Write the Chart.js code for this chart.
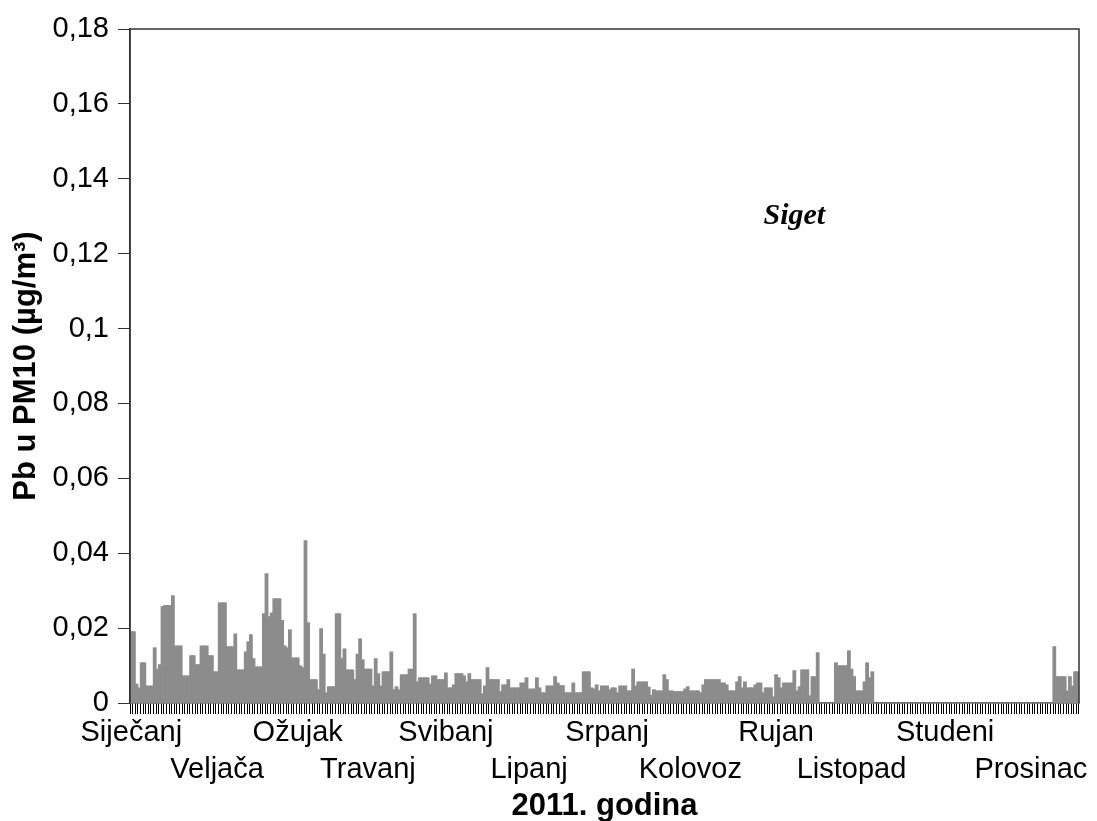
<!DOCTYPE html>
<html>
<head>
<meta charset="utf-8">
<script src="https://cdn.jsdelivr.net/npm/chart.js@4.4.0/dist/chart.umd.min.js"></script>
<style>
  body { margin: 0; background: #fff; }
  canvas { display: block; }
</style>
</head>
<body>
<canvas id="myChart" width="1097" height="821"></canvas>
<script>
// month names on the x axis (two rows, alternating)
const months = ["Siječanj", "Veljača", "Ožujak", "Travanj", "Svibanj", "Lipanj",
  "Srpanj", "Kolovoz", "Rujan", "Listopad", "Studeni", "Prosinac"];
// day of year (0-based) under which each month label sits
const monthTickDay = [0, 33, 64, 91, 121, 153, 183, 215, 248, 277, 313, 346];

// daily Pb in PM10 (µg/m³), 2011
const jan = [0.019, 0.019, 0.005, 0.004, 0.0107, 0.0107, 0.0045, 0.0045, 0.0045, 0.0147, 0.009,
  0.0102, 0.0257, 0.026, 0.026, 0.026, 0.0286, 0.0152, 0.0152, 0.0152, 0.0072, 0.0072, 0.0072,
  0.0126, 0.0126, 0.0102, 0.0102, 0.0152, 0.0152, 0.0152, 0.0126];
const feb = [0.0126, 0.0083, 0.0083, 0.0267, 0.0267, 0.0267, 0.015, 0.015, 0.015, 0.0184, 0.0088,
  0.0088, 0.0088, 0.0136, 0.0163, 0.0182, 0.0118, 0.0096, 0.0096, 0.0096, 0.0238, 0.0345, 0.023,
  0.024, 0.0278, 0.0278, 0.0278, 0.022];
const mar = [0.0152, 0.0147, 0.0195, 0.012, 0.012, 0.012, 0.0099, 0.0094, 0.0433, 0.0214, 0.0062,
  0.0062, 0.0062, 0.0035, 0.0198, 0.013, 0.0027, 0.0043, 0.0043, 0.0043, 0.0238, 0.0238, 0.0118,
  0.0144, 0.0088, 0.0088, 0.0088, 0.0062, 0.013, 0.0171, 0.0115];
const apr = [0.009, 0.009, 0.009, 0.0045, 0.0118, 0.0078, 0.0045, 0.0083, 0.0083, 0.0083, 0.0136,
  0.0035, 0.0043, 0.0035, 0.0075, 0.0075, 0.0075, 0.009, 0.009, 0.0238, 0.0056, 0.0067, 0.0067,
  0.0067, 0.0067, 0.005, 0.0072, 0.0072, 0.0062, 0.0062];
const may = [0.0062, 0.008, 0.004, 0.004, 0.0048, 0.0078, 0.0078, 0.0078, 0.0072, 0.0056, 0.0078,
  0.0062, 0.0062, 0.0062, 0.0062, 0.0024, 0.0045, 0.0094, 0.0062, 0.0062, 0.0062, 0.0062, 0.003,
  0.0048, 0.0048, 0.0062, 0.004, 0.004, 0.004, 0.004, 0.0053];
const jun = [0.0053, 0.0067, 0.0037, 0.0037, 0.0037, 0.0067, 0.004, 0.0027, 0.0027, 0.0045, 0.0045,
  0.0045, 0.007, 0.0053, 0.0046, 0.0046, 0.0027, 0.0027, 0.0027, 0.0053, 0.0027, 0.0027, 0.0027,
  0.0083, 0.0083, 0.0083, 0.004, 0.0037, 0.0048, 0.0032];
const jul = [0.0045, 0.0045, 0.0045, 0.0035, 0.004, 0.004, 0.0027, 0.0045, 0.0045, 0.0045, 0.0032,
  0.0032, 0.009, 0.0045, 0.0056, 0.0056, 0.0056, 0.0056, 0.0042, 0.002, 0.0035, 0.0032, 0.0032,
  0.0032, 0.0075, 0.0062, 0.0032, 0.0032, 0.003, 0.003, 0.003];
const aug = [0.003, 0.0037, 0.0043, 0.0032, 0.0032, 0.0032, 0.0032, 0.0027, 0.0048, 0.0062, 0.0062,
  0.0062, 0.0062, 0.0062, 0.0062, 0.0053, 0.0053, 0.0048, 0.0032, 0.0032, 0.0032, 0.0056, 0.007,
  0.004, 0.0056, 0.004, 0.004, 0.004, 0.0048, 0.0053, 0.0053];
const sep = [0.0027, 0.004, 0.004, 0.004, 0.0016, 0.0075, 0.0067, 0.004, 0.0053, 0.0053, 0.0053,
  0.0053, 0.0086, 0.0032, 0.0043, 0.0088, 0.0088, 0.0088, 0.0019, 0.007, 0.007, 0.0134, 0, 0,
  0, 0, 0, 0, 0.0107, 0.0099];
const oct = [0.0099, 0.0099, 0.0099, 0.0139, 0.009, 0.007, 0.0032, 0.0032, 0.0032, 0.0056, 0.0107,
  0.0067, 0.0083, 0, 0, 0, 0, 0, 0, 0, 0, 0, 0, 0, 0, 0, 0, 0, 0, 0, 0];
const nov = [0, 0, 0, 0, 0, 0, 0, 0, 0, 0, 0, 0, 0, 0, 0, 0, 0, 0, 0, 0, 0, 0, 0, 0, 0, 0, 0, 0, 0, 0];
const dec = [0, 0, 0, 0, 0, 0, 0, 0, 0, 0, 0, 0, 0, 0, 0, 0, 0, 0, 0, 0, 0, 0.015, 0.007, 0.007,
  0.007, 0.007, 0.0032, 0.007, 0.0045, 0.0083, 0.0083];

const pbValues = [].concat(jan, feb, mar, apr, may, jun, jul, aug, sep, oct, nov, dec);
const days = pbValues.map((v, i) => i + 1); // day of year

const siteName = "Siget";

Chart.defaults.font.family = "'Liberation Sans', Arial, sans-serif";
Chart.defaults.color = "#000";

// box round the plot (left, top, right drawn over the bars)
const framePlugin = {
  id: "frame",
  afterDatasetsDraw(chart) {
    const { ctx, chartArea: a } = chart;
    ctx.save();
    ctx.strokeStyle = "#333";
    ctx.lineWidth = 1.5;
    ctx.beginPath();
    ctx.moveTo(a.left, a.bottom);
    ctx.lineTo(a.left, a.top);
    ctx.lineTo(a.right, a.top);
    ctx.lineTo(a.right, a.bottom);
    ctx.stroke();
    ctx.restore();
  },
};

// station name inside the plot
const sitePlugin = {
  id: "siteLabel",
  afterDraw(chart) {
    const { ctx, scales } = chart;
    ctx.save();
    ctx.font = "italic bold 30px 'Liberation Serif', 'Times New Roman', serif";
    ctx.fillStyle = "#000";
    ctx.textAlign = "center";
    ctx.textBaseline = "alphabetic";
    ctx.fillText(siteName, scales.x.getPixelForValue(255), scales.y.getPixelForValue(0.1278));
    ctx.restore();
  },
};

const ctx = document.getElementById("myChart").getContext("2d");
new Chart(ctx, {
  type: "bar",
  data: {
    labels: days,
    datasets: [
      {
        data: pbValues,
        backgroundColor: "#8c8c8c",
        borderWidth: 0,
        inflateAmount: 0.6,
        barPercentage: 1,
        categoryPercentage: 1,
      },
    ],
  },
  options: {
    responsive: false,
    animation: false,
    layout: { padding: { top: 29, right: 18, left: 0, bottom: 0 } },
    plugins: { legend: { display: false }, tooltip: { enabled: false } },
    scales: {
      x: {
        afterFit: (scale) => { scale.height = 118; },
        border: { display: true, color: "#333", width: 1.5 },
        grid: { drawOnChartArea: false, tickLength: 11, color: "#000", lineWidth: 1 },
        ticks: {
          autoSkip: false,
          maxRotation: 0,
          minRotation: 0,
          padding: 0.5,
          font: { size: 29, lineHeight: 1.276 },
          callback: (value, index) => {
            const m = monthTickDay.indexOf(index);
            if (m < 0) return "";
            return m % 2 === 0 ? months[m] : ["", months[m]];
          },
        },
        title: {
          display: true,
          text: "2011. godina",
          font: { size: 31, weight: "bold", lineHeight: 0.95 },
          padding: { top: 0, bottom: 0 },
        },
      },
      y: {
        min: 0,
        max: 0.18,
        afterFit: (scale) => { scale.width = 130; },
        border: { display: true, color: "#333", width: 1.5 },
        grid: {
          drawOnChartArea: false,
          tickLength: 12,
          color: "#333",
          // minor ticks (odd hundredths) are shorter
          tickBorderDash: (c) => (Math.round(c.tick.value * 100) % 2 ? [0, 5, 8, 60] : []),
        },
        ticks: {
          stepSize: 0.01,
          padding: 9,
          font: { size: 29 },
          callback: (value) => {
            const k = Math.round(value * 100);
            if (k % 2 !== 0) return "";
            return k === 0 ? "0" : (k / 100).toString().replace(".", ",");
          },
        },
        title: {
          display: true,
          text: "Pb u PM10 (µg/m³)",
          font: { size: 31, weight: "bold", lineHeight: 1 },
          padding: { top: 11, bottom: 0 },
        },
      },
    },
  },
  plugins: [framePlugin, sitePlugin],
});
</script>
</body>
</html>
